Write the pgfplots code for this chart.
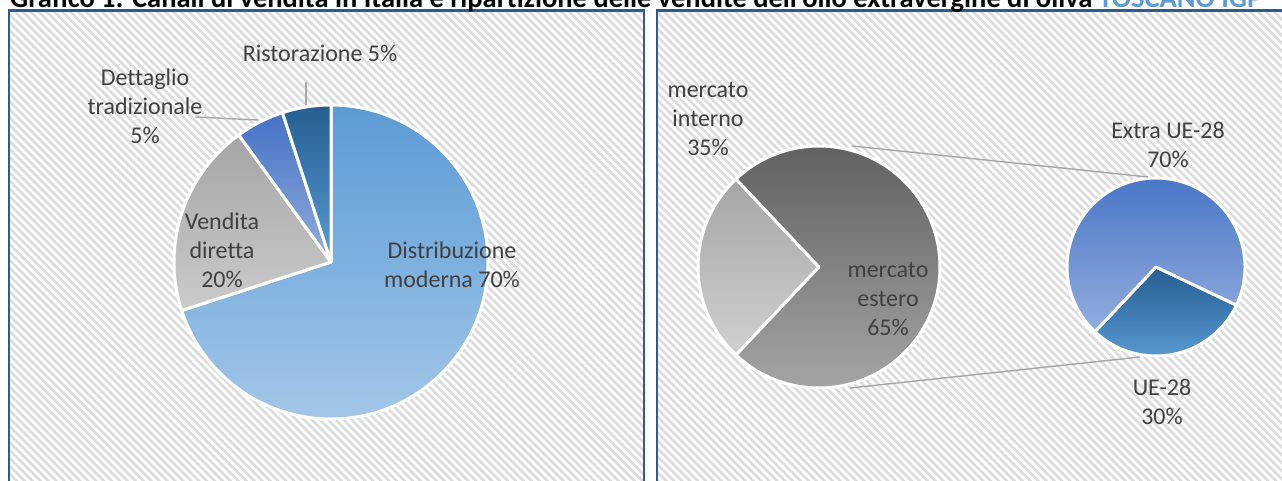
\documentclass[border=0pt]{standalone}
\usepackage{pgfplots}
\pgfplotsset{compat=1.18}
\usepackage{pgfplotstable}
\usepackage{fontspec}
\setmainfont[Ligatures={TeX,NoCommon}]{Carlito}
\usetikzlibrary{patterns.meta}

\definecolor{txt}{HTML}{404040}
\definecolor{frame}{HTML}{2E5C8E}
\definecolor{hatch}{HTML}{DBDBDB}
\definecolor{lead}{HTML}{A6A6A6}
\definecolor{title2}{HTML}{5B9BD5}
\definecolor{dmA}{HTML}{5B9BD5}\definecolor{dmB}{HTML}{A2C6E8}
\definecolor{vdA}{HTML}{A5A5A5}\definecolor{vdB}{HTML}{CBCBCB}
\definecolor{dtA}{HTML}{4472C4}\definecolor{dtB}{HTML}{93ADDE}
\definecolor{riA}{HTML}{255E91}\definecolor{riB}{HTML}{5B9BD5}
\definecolor{esA}{HTML}{5E5E5E}\definecolor{esB}{HTML}{A8A8A8}
\definecolor{inA}{HTML}{A5A5A5}\definecolor{inB}{HTML}{D0D0D0}

% Canali di vendita in Italia (%)
\pgfplotstableread{
canale value
DistribuzioneModerna 70
VenditaDiretta 20
DettaglioTradizionale 5
Ristorazione 5
}\canali

% Ripartizione delle vendite (%)
\pgfplotstableread{
mercato value
interno 35
ExtraUE28 70
UE28 30
}\mercati

% #1 cx, #2 cy, #3 radius, #4 start angle, #5 end angle, #6 top colour, #7 bottom colour
\newcommand\slice[7]{%
  \edef\tmp{\noexpand\path[draw=white, line width=3pt, line join=round,
    top color=#6, bottom color=#7]
    (axis cs:#1,#2) -- ++(#4:#3pt) arc[start angle=#4, end angle=#5, radius=#3pt] -- cycle;}%
  \tmp}

\newcommand\lbl[3]{\node[anchor=base, text=txt, font=\fontsize{24}{29}\selectfont, inner sep=0pt] at (axis cs:#1,#2) {#3};}

\begin{document}
\begin{tikzpicture}
\begin{axis}[
  at={(0,0)}, anchor=south west,
  scale only axis, width=1282pt, height=480pt,
  xmin=0, xmax=1282, ymin=0, ymax=480, y dir=reverse,
  hide axis, clip=false]

\coordinate (BL) at (axis cs:0,480);
\coordinate (TR) at (axis cs:1282,0);

% panels
\fill[white] (axis cs:9,10.5) rectangle (axis cs:644,495);
\fill[pattern={Lines[angle=-45,distance=5.6pt,line width=2.5pt]}, pattern color=hatch] (axis cs:9,10.5) rectangle (axis cs:644,495);
\draw[frame, line width=2.2pt] (axis cs:9,10.5) rectangle (axis cs:644,495);
\fill[white] (axis cs:657,10.5) rectangle (axis cs:1295,495);
\fill[pattern={Lines[angle=-45,distance=5.6pt,line width=2.5pt]}, pattern color=hatch] (axis cs:657,10.5) rectangle (axis cs:1295,495);
\draw[frame, line width=2.2pt] (axis cs:657,10.5) rectangle (axis cs:1295,495);

% title
\node[anchor=base west, inner sep=0pt] at (axis cs:10,7) {\resizebox{1252pt}{!}{\bfseries Grafico 1: Canali di vendita in Italia e ripartizione delle vendite dell'olio extravergine di oliva \textcolor{title2}{TOSCANO IGP}}};

% left pie
\gdef\acur{90}
\pgfplotstableforeachcolumnelement{value}\of\canali\as\v{%
  \pgfmathsetmacro\anext{\acur-3.6*\v}%
  \ifcase\pgfplotstablerow \def\tc{dmA}\def\bc{dmB}\or \def\tc{vdA}\def\bc{vdB}\or \def\tc{dtA}\def\bc{dtB}\or \def\tc{riA}\def\bc{riB}\fi
  \slice{331}{262}{157}{\acur}{\anext}{\tc}{\bc}%
  \global\let\acur\anext
}

% right: pie of pie
\pgfplotstablegetelem{0}{value}\of\mercati \let\vi\pgfplotsretval
\pgfplotstablegetelem{1}{value}\of\mercati \let\ve\pgfplotsretval
\pgfplotstablegetelem{2}{value}\of\mercati \let\vu\pgfplotsretval
\pgfmathsetmacro\half{180*\vi/(\vi+\ve+\vu)}
\pgfmathsetmacro\aa{180-\half}
\pgfmathsetmacro\ab{180+\half}
\pgfmathsetmacro\ac{\ab-360}
\slice{819}{267}{121}{\aa}{\ab}{inA}{inB}
\slice{819}{267}{121}{\ac}{\aa}{esA}{esB}
\pgfmathsetmacro\ad{\ac+360*\vu/(\ve+\vu)}
\pgfmathsetmacro\ae{\ac+360}
\slice{1156}{267}{89}{\ac}{\ad}{riA}{riB}
\slice{1156}{267}{89}{\ad}{\ae}{dtA}{dtB}

% leader and connector lines
\draw[lead, line width=1.4pt] (axis cs:306,82) -- (axis cs:306,105);
\draw[lead, line width=1.4pt] (axis cs:195,117) -- (axis cs:258,120);
\draw[lead, line width=1.4pt] (axis cs:852,146) -- (axis cs:1148,177);
\draw[lead, line width=1.4pt] (axis cs:850,388) -- (axis cs:1140,357);

% labels left
\lbl{320}{61}{Ristorazione 5\%}
\lbl{145}{85}{Dettaglio}
\lbl{145}{114}{tradizionale}
\lbl{145}{143}{5\%}
\lbl{222}{229}{Vendita}
\lbl{222}{258}{diretta}
\lbl{222}{287}{20\%}
\lbl{452}{258}{Distribuzione}
\lbl{452}{287}{moderna 70\%}

% labels right
\lbl{708}{97}{mercato}
\lbl{708}{126}{interno}
\lbl{708}{155}{35\%}
\lbl{888}{277}{mercato}
\lbl{888}{306}{estero}
\lbl{888}{335}{65\%}
\lbl{1168}{138}{Extra UE-28}
\lbl{1168}{167}{70\%}
\lbl{1162}{395}{UE-28}
\lbl{1162}{424}{30\%}
\end{axis}
\pgfresetboundingbox
\path[use as bounding box] (BL) rectangle (TR);
\end{tikzpicture}
\end{document}
